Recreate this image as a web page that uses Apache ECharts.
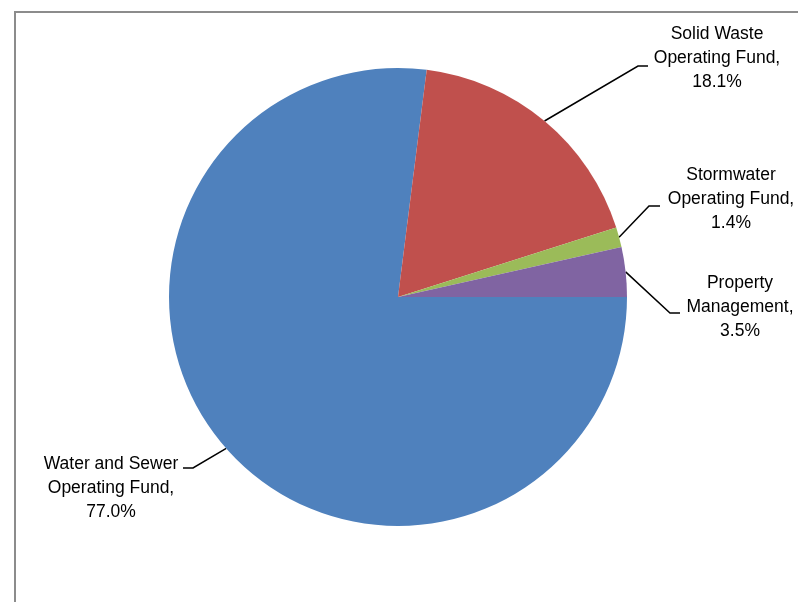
<!DOCTYPE html>
<html>
<head>
<meta charset="utf-8">
<script src="https://cdn.jsdelivr.net/npm/echarts@6/dist/echarts.min.js"></script>
<style>
html,body{margin:0;padding:0;background:#fff;}
#chart{width:798px;height:602px;}
</style>
</head>
<body>
<div id="chart"></div>
<script>
var categories = ['Water and Sewer\nOperating Fund', 'Solid Waste\nOperating Fund', 'Stormwater\nOperating Fund', 'Property\nManagement'];
var values = [77.0, 18.1, 1.4, 3.5];
var colors = ['#4F81BD', '#C0504D', '#9BBB59', '#8064A2'];

// label anchor positions and leader-line bend/end points (layout only)
var labelPos = [[111, 488], [717, 58], [731, 199], [740, 307]];
var bendPts = [[[193, 468], [183, 468]], [[638, 66], [648, 66]], [[649, 206], [660, 206]], [[670, 313], [680, 313]]];

var chart = echarts.init(document.getElementById('chart'), null, {renderer: 'canvas'});
chart.setOption({
  animation: false,
  backgroundColor: '#fff',
  graphic: [{
    type: 'rect',
    shape: {x: 15, y: 12, width: 900, height: 700},
    style: {fill: 'none', stroke: '#8c8c8c', lineWidth: 2},
    silent: true
  }],
  series: [{
    type: 'pie',
    center: [398, 297],
    radius: 229,
    startAngle: 0,
    clockwise: true,
    silent: true,
    data: categories.map(function (c, i) {
      return {name: c, value: values[i], itemStyle: {color: colors[i]}};
    }),
    label: {
      show: true,
      formatter: function (p) { return p.name + ',\n' + p.value.toFixed(1) + '%'; },
      fontFamily: 'Liberation Sans, Arial, sans-serif',
      fontSize: 17.5,
      lineHeight: 24,
      color: '#000',
      align: 'center',
      overflow: 'none',
      width: 200
    },
    labelLine: {
      show: true,
      lineStyle: {color: '#000', width: 1.5}
    },
    labelLayout: function (params) {
      var i = params.dataIndex;
      var pts = params.labelLinePoints;
      return {
        x: labelPos[i][0],
        y: labelPos[i][1],
        align: 'center',
        verticalAlign: 'middle',
        labelLinePoints: [pts[0], bendPts[i][0], bendPts[i][1]]
      };
    }
  }]
});
</script>
</body>
</html>
